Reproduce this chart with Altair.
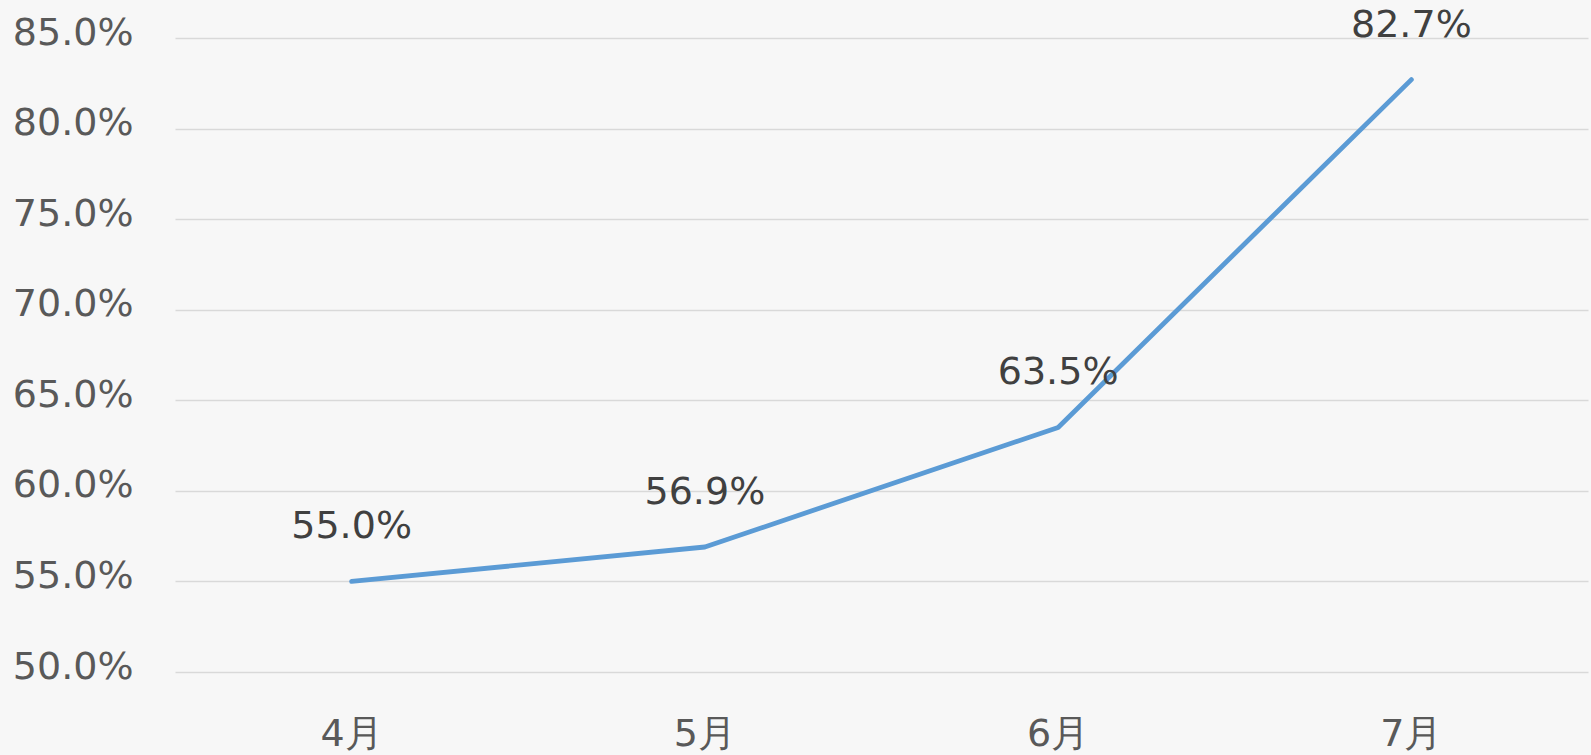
import altair as alt
import pandas as pd

months = ["4月", "5月", "6月", "7月"]
rates = [0.550, 0.569, 0.635, 0.827]
y_ticks = [0.50, 0.55, 0.60, 0.65, 0.70, 0.75, 0.80, 0.85]

df = pd.DataFrame({"month": months, "rate": rates})

FONT = "DejaVu Sans"

x = alt.X("month:N", sort=months, title=None,
          scale=alt.Scale(type="band", paddingInner=0, paddingOuter=0),
          axis=alt.Axis(labelAngle=0, labelFontSize=38, labelColor="#595959",
                        labelFont=FONT, labelPadding=43, ticks=False, domain=False,
                        grid=False, labelBaseline="top"))
y = alt.Y("rate:Q", title=None,
          scale=alt.Scale(domain=[0.50, 0.85], nice=False, zero=False),
          axis=alt.Axis(values=y_ticks, format=".1%", labelFontSize=38,
                        labelColor="#595959", labelFont=FONT, labelPadding=42,
                        ticks=False, domain=False, gridColor="#D9D9D9",
                        gridWidth=1.3, labelOffset=-5, labelBaseline="middle"))

line = alt.Chart(df).mark_line(color="#5B9BD5", strokeWidth=4.8,
                               strokeCap="round", strokeJoin="round").encode(x=x, y=y)
labels = alt.Chart(df).mark_text(font=FONT, fontSize=38, color="#404040",
                                 baseline="bottom", dy=-35).encode(
    x=alt.X("month:N", sort=months), y="rate:Q",
    text=alt.Text("rate:Q", format=".1%"))

chart = (line + labels).properties(
    width=1413, height=634,
    background="#F7F7F7",
    padding={"left": 175, "top": 38, "right": 3, "bottom": 83},
    autosize=alt.AutoSizeParams(type="none"),
).configure_view(stroke=None)

chart.save("out.html", embed_options={"renderer": "svg", "actions": False})
